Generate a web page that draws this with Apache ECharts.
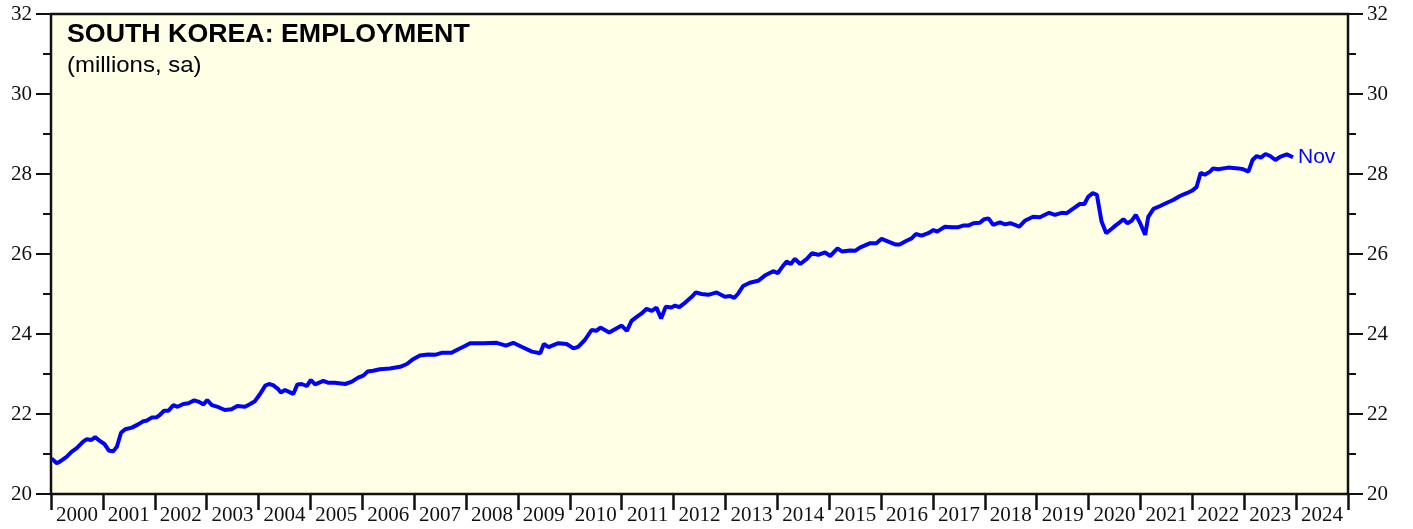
<!DOCTYPE html>
<html>
<head>
<meta charset="utf-8">
<script src="https://cdn.jsdelivr.net/npm/echarts@6/dist/echarts.min.js"></script>
<style>
  html, body { margin: 0; padding: 0; background: #fff; }
  #chart { width: 1413px; height: 529px; }
</style>
</head>
<body>
<div id="chart"></div>
<script>
// year labels on the x axis (one per slot between ticks)
const yearLabels = ['2000', '2001', '2002', '2003', '2004', '2005', '2006', '2007', '2008', '2009',
    '2010', '2011', '2012', '2013', '2014', '2015', '2016', '2017', '2018', '2019',
    '2020', '2021', '2022', '2023', '2024'];

// time of each reading, in decimal years
const dates = [
    2000.01, 2000.11, 2000.17, 2000.30, 2000.40, 2000.49, 2000.62, 2000.69, 2000.78, 2000.85, 2000.94,
    2001.03, 2001.12, 2001.20, 2001.27, 2001.35, 2001.43, 2001.56, 2001.68, 2001.78, 2001.84, 2001.94,
    2002.04, 2002.10, 2002.18, 2002.26, 2002.36, 2002.44, 2002.55, 2002.65, 2002.76, 2002.84, 2002.94,
    2003.01, 2003.10, 2003.23, 2003.35, 2003.48, 2003.59, 2003.74, 2003.84, 2003.93,
    2004.03, 2004.13, 2004.20, 2004.28, 2004.38, 2004.43, 2004.51, 2004.61, 2004.67, 2004.75, 2004.83, 2004.93,
    2005.01, 2005.09, 2005.25, 2005.35, 2005.47, 2005.67, 2005.80, 2005.92,
    2006.02, 2006.10, 2006.21, 2006.34, 2006.53, 2006.73, 2006.86, 2006.98,
    2007.11, 2007.27, 2007.40, 2007.53, 2007.72, 2007.85, 2007.95,
    2008.08, 2008.33, 2008.59, 2008.77, 2008.91,
    2009.07, 2009.27, 2009.43, 2009.50, 2009.59, 2009.78, 2009.94,
    2010.07, 2010.16, 2010.29, 2010.42, 2010.51, 2010.59, 2010.76, 2010.87,
    2011.00, 2011.10, 2011.19, 2011.29, 2011.39, 2011.48, 2011.58, 2011.67, 2011.76, 2011.85, 2011.96,
    2012.03, 2012.11, 2012.22, 2012.35, 2012.43, 2012.54, 2012.67, 2012.83, 2012.99,
    2013.09, 2013.17, 2013.25, 2013.34, 2013.47, 2013.63, 2013.76, 2013.92,
    2014.01, 2014.12, 2014.18, 2014.26, 2014.34, 2014.44, 2014.57, 2014.67, 2014.79, 2014.92,
    2015.02, 2015.16, 2015.25, 2015.40, 2015.50, 2015.59, 2015.79, 2015.91,
    2016.01, 2016.14, 2016.27, 2016.36, 2016.49, 2016.59, 2016.67, 2016.78, 2016.91,
    2017.01, 2017.08, 2017.23, 2017.36, 2017.49, 2017.58, 2017.68, 2017.78, 2017.90, 2017.99,
    2018.07, 2018.16, 2018.29, 2018.39, 2018.49, 2018.58, 2018.66, 2018.77, 2018.93,
    2019.06, 2019.24, 2019.35, 2019.48, 2019.58, 2019.71, 2019.83, 2019.92, 2019.99,
    2020.08, 2020.16, 2020.25, 2020.34, 2020.48, 2020.58, 2020.67, 2020.75, 2020.83, 2020.91, 2020.99,
    2021.09, 2021.15, 2021.25, 2021.38, 2021.51, 2021.63, 2021.76, 2021.89, 2021.99,
    2022.08, 2022.16, 2022.24, 2022.34, 2022.40, 2022.50, 2022.69, 2022.89, 2022.98,
    2023.08, 2023.16, 2023.24, 2023.32, 2023.41, 2023.50, 2023.60, 2023.69, 2023.82, 2023.94
];

// employment, millions, seasonally adjusted
const employment = [
    20.89, 20.77, 20.81, 20.93, 21.06, 21.14, 21.31, 21.37, 21.35, 21.42, 21.33,
    21.25, 21.08, 21.07, 21.18, 21.53, 21.62, 21.66, 21.74, 21.82, 21.83, 21.91,
    21.92, 21.98, 22.08, 22.08, 22.22, 22.18, 22.25, 22.27, 22.34, 22.31, 22.24,
    22.35, 22.22, 22.17, 22.10, 22.12, 22.20, 22.18, 22.25, 22.32,
    22.50, 22.71, 22.75, 22.72, 22.62, 22.54, 22.60, 22.54, 22.50, 22.74, 22.75, 22.70,
    22.85, 22.74, 22.83, 22.78, 22.78, 22.75, 22.81, 22.91,
    22.96, 23.06, 23.08, 23.12, 23.14, 23.18, 23.25, 23.37,
    23.46, 23.49, 23.48, 23.53, 23.53, 23.62, 23.68,
    23.77, 23.77, 23.78, 23.71, 23.78,
    23.68, 23.56, 23.52, 23.75, 23.67, 23.77, 23.75,
    23.64, 23.68, 23.85, 24.10, 24.08, 24.16, 24.04, 24.12,
    24.21, 24.08, 24.33, 24.43, 24.52, 24.63, 24.58, 24.66, 24.39, 24.68, 24.66,
    24.71, 24.67, 24.78, 24.93, 25.04, 25.00, 24.98, 25.04, 24.93,
    24.95, 24.90, 25.02, 25.20, 25.28, 25.33, 25.46, 25.57,
    25.52, 25.72, 25.81, 25.75, 25.88, 25.75, 25.88, 26.02, 25.98, 26.04,
    25.95, 26.14, 26.06, 26.09, 26.08, 26.16, 26.27, 26.27,
    26.38, 26.31, 26.24, 26.24, 26.33, 26.39, 26.50, 26.46, 26.52,
    26.60, 26.56, 26.68, 26.67, 26.67, 26.71, 26.71, 26.77, 26.78, 26.87,
    26.89, 26.73, 26.79, 26.74, 26.77, 26.73, 26.68, 26.83, 26.93,
    26.92, 27.03, 26.98, 27.03, 27.02, 27.14, 27.25, 27.25, 27.43,
    27.52, 27.48, 26.81, 26.52, 26.67, 26.77, 26.87, 26.77, 26.83, 26.98, 26.78,
    26.48, 26.93, 27.13, 27.20, 27.28, 27.35, 27.45, 27.52, 27.58,
    27.67, 28.03, 27.98, 28.06, 28.14, 28.12, 28.16, 28.14, 28.12,
    28.06, 28.35, 28.45, 28.41, 28.50, 28.45, 28.35, 28.43, 28.49, 28.42
];

const serif = 'Liberation Serif';
const sans = 'Liberation Sans';

const yAxisBase = {
    type: 'value',
    min: 20,
    max: 32,
    interval: 2,
    axisLine: { show: false },
    axisTick: { show: true, length: 15, lineStyle: { color: '#111', width: 2 } },
    minorTick: { show: true, splitNumber: 2, length: 8, lineStyle: { color: '#111', width: 2 } },
    splitLine: { show: false },
    minorSplitLine: { show: false },
    axisLabel: { color: '#111', fontFamily: serif, fontSize: 21, margin: 19 }
};

const chart = echarts.init(document.getElementById('chart'));
chart.setOption({
    animation: false,
    grid: {
        left: 51, right: 65, top: 14, bottom: 35,
        show: true,
        backgroundColor: '#ffffe6',
        borderColor: '#111',
        borderWidth: 2.5
    },
    xAxis: [
        {
            type: 'value',
            min: 2000,
            max: 2025,
            show: false
        },
        {
            type: 'category',
            data: yearLabels,
            boundaryGap: true,
            position: 'bottom',
            axisLine: { show: false },
            axisTick: { show: true, inside: false, length: 16, lineStyle: { color: '#111', width: 2.5 } },
            axisLabel: { color: '#111', fontFamily: serif, fontSize: 21, margin: 11, interval: 0 },
            splitLine: { show: false }
        }
    ],
    yAxis: [
        Object.assign({}, yAxisBase, { position: 'left' }),
        Object.assign({}, yAxisBase, { position: 'right' })
    ],
    graphic: [
        {
            type: 'text',
            left: 67,
            top: 23,
            scaleX: 1.07,
            style: { text: 'SOUTH KOREA: EMPLOYMENT', fill: '#000', font: 'bold 25px "Liberation Sans"' }
        },
        {
            type: 'text',
            left: 67,
            top: 55,
            scaleX: 1.09,
            style: { text: '(millions, sa)', fill: '#000', font: '22px "Liberation Sans"' }
        }
    ],
    series: [
        {
            type: 'line',
            xAxisIndex: 0,
            yAxisIndex: 0,
            data: dates.map((d, i) => [d, employment[i]]),
            showSymbol: false,
            lineStyle: { color: '#0000ff', width: 4 },
            itemStyle: { color: '#0000ff' },
            endLabel: {
                show: true,
                formatter: 'Nov',
                color: '#0000ff',
                fontFamily: sans,
                fontSize: 21,
                distance: 5
            }
        }
    ]
});
</script>
</body>
</html>
